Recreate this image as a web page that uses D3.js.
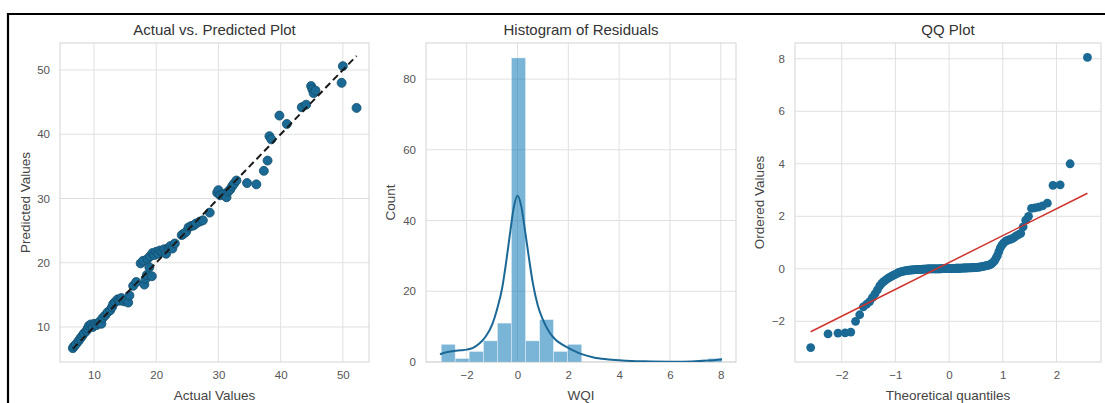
<!DOCTYPE html>
<html>
<head>
<meta charset="utf-8">
<script src="https://cdn.jsdelivr.net/npm/d3@7"></script>
<style>
  html, body { margin: 0; padding: 0; background: #fff; }
  svg { display: block; font-family: "Liberation Sans", Arial, sans-serif; }
</style>
</head>
<body>
<svg id="chart" width="1105" height="403"></svg>
<script>
// ---------------- DATA ----------------
// Panel 1: Actual vs. Predicted
const actualValues = [6.6,6.8,7.1,7.5,7.8,8.1,8.4,8.8,9.0,9.2,9.5,9.8,10.1,10.4,10.7,11.0,11.2,11.4,11.8,12.2,12.6,12.9,13.1,13.4,13.8,14.1,14.4,14.8,15.2,15.5,15.7,16.3,16.8,17.5,17.9,18.1,18.3,18.5,18.6,18.9,19.0,19.3,19.4,19.7,20.0,20.3,20.6,21.0,21.3,21.6,22.0,22.3,22.6,23.0,24.1,24.4,24.8,25.2,25.6,26.0,26.4,27.0,27.5,28.6,29.8,30.0,30.3,30.8,31.3,31.6,31.9,32.2,32.5,32.9,34.6,36.1,37.3,37.9,38.2,38.5,39.8,41.0,43.4,44.1,44.9,45.1,45.3,45.6,50.0,49.8,52.2];
const predictedValues = [6.7,7.0,7.3,7.8,8.2,8.6,9.0,9.4,9.8,10.2,10.4,10.0,10.5,10.3,10.6,10.9,10.5,11.4,11.8,12.3,12.6,13.1,13.6,13.9,14.3,14.1,14.5,14.0,14.2,13.8,14.9,16.4,17.0,19.9,20.3,16.6,17.5,18.1,20.6,19.3,21.0,17.9,21.5,21.2,21.7,21.4,21.9,21.7,22.1,21.4,22.3,22.6,22.2,23.0,24.3,24.5,24.8,25.5,25.7,25.8,26.1,26.4,26.6,27.8,30.9,31.3,30.5,30.7,30.2,31.1,31.4,31.9,32.3,32.8,32.4,32.2,34.3,35.9,39.7,39.2,42.9,41.6,44.2,44.6,47.5,47.0,46.4,46.8,50.6,48.0,44.1];
const identityLine = [6.6, 52.2];
const p1XTicks = [10,20,30,40,50];
const p1YTicks = [10,20,30,40,50];

// Panel 2: Histogram of residuals
const histEdges = [-3.0,-2.45,-1.9,-1.34,-0.79,-0.24,0.32,0.87,1.42,1.97,2.53,3.08,3.63,4.18,4.74,5.29,5.84,6.39,6.95,7.5,8.05];
const histCounts = [5,1,3,6,11,86,6,12,3,5,0,0,0,0,0,0,0,0,0,1];
const kdeX = [-3.05,-2.75,-2.5,-2.25,-2.0,-1.75,-1.5,-1.25,-1.0,-0.8,-0.6,-0.45,-0.3,-0.15,0,0.15,0.3,0.45,0.6,0.8,1.0,1.25,1.5,1.75,2.0,2.25,2.5,3.0,3.5,4.0,4.5,5.0,6.0,6.5,7.0,7.5,8.05];
const kdeY = [2.2,2.8,3.1,3.3,3.5,4.0,5.2,7.2,10.5,15,21,28,36,43.5,47,44,37,29.5,22.5,16,12,8.5,6.3,5.0,4.0,3.1,2.3,1.3,0.8,0.5,0.3,0.2,0.1,0.1,0.2,0.4,0.8];
const p2XTicks = [-2,0,2,4,6,8];
const p2YTicks = [0,20,40,60,80];

// Panel 3: QQ plot (ordered residuals)
const orderedValues = [
  -3.0,-2.48,-2.45,-2.44,-2.41,-2.0,-1.75,-1.45,-1.35,-1.25,
  -1.1,-0.95,-0.8,-0.65,-0.55,-0.48,-0.42,-0.37,-0.33,-0.29,
  -0.25,-0.22,-0.19,-0.16,-0.14,-0.12,-0.1,-0.09,-0.08,-0.07,
  -0.06,-0.05,-0.05,-0.045,-0.04,-0.04,-0.035,-0.03,-0.03,-0.025,
  -0.02,-0.02,-0.02,-0.015,-0.01,-0.01,-0.01,-0.005,-0.005,0.0,
  0,0,0,0,0,0,0,0,0,0,0,0.005,0.005,0.005,0.005,0.01,0.01,0.01,0.01,0.01,
  0.01,0.01,0.015,0.015,0.015,0.015,0.02,0.02,0.02,0.02,0.02,0.025,0.025,0.025,0.03,0.03,0.03,0.03,0.035,0.035,
  0.035,0.04,0.04,0.04,0.045,0.05,0.05,0.055,0.06,0.065,0.07,0.08,0.09,0.1,0.11,
  0.12,0.13,0.15,0.17,0.2,0.25,0.3,0.4,0.5,0.65,0.8,0.9,0.98,1.03,1.07,1.1,1.12,1.15,1.2,1.25,1.3,1.35,1.6,1.85,2.0,2.3,2.32,2.35,2.4,2.5,3.18,3.2,4.0,8.05
];
const qqFitSlope = 1.023;
const qqFitIntercept = 0.24;
const p3XTicks = [-2,-1,0,1,2];
const p3YTicks = [-2,0,2,4,6,8];

// ---------------- HELPERS ----------------
// inverse standard normal CDF (Acklam) for theoretical quantiles
function probit(p) {
  const a=[-3.969683028665376e+01,2.209460984245205e+02,-2.759285104469687e+02,1.383577518672690e+02,-3.066479806614716e+01,2.506628277459239e+00];
  const b=[-5.447609879822406e+01,1.615858368580409e+02,-1.556989798598866e+02,6.680131188771972e+01,-1.328068155288572e+01];
  const c=[-7.784894002430293e-03,-3.223964580411365e-01,-2.400758277161838e+00,-2.549671010366493e+00,4.374664141464968e+00,2.938163982698783e+00];
  const d=[7.784695709041462e-03,3.224671290700398e-01,2.445134137142996e+00,3.754408661907416e+00];
  const pl=0.02425, ph=1-pl;
  let q,r;
  if (p<pl){ q=Math.sqrt(-2*Math.log(p)); return (((((c[0]*q+c[1])*q+c[2])*q+c[3])*q+c[4])*q+c[5])/((((d[0]*q+d[1])*q+d[2])*q+d[3])*q+1); }
  if (p>ph){ q=Math.sqrt(-2*Math.log(1-p)); return -(((((c[0]*q+c[1])*q+c[2])*q+c[3])*q+c[4])*q+c[5])/((((d[0]*q+d[1])*q+d[2])*q+d[3])*q+1); }
  q=p-0.5; r=q*q;
  return (((((a[0]*r+a[1])*r+a[2])*r+a[3])*r+a[4])*r+a[5])*q/(((((b[0]*r+b[1])*r+b[2])*r+b[3])*r+b[4])*r+1);
}
// Filliben order statistic medians (as in scipy.stats.probplot)
function theoreticalQuantiles(n) {
  const out = [];
  const mn = Math.pow(0.5, 1/n);
  for (let i=1;i<=n;i++){
    let m;
    if (i===1) m = 1-mn; else if (i===n) m = mn; else m = (i-0.3175)/(n+0.365);
    out.push(probit(m));
  }
  return out;
}

// ---------------- LAYOUT ----------------
const svg = d3.select("#chart");
svg.append("rect").attr("width",1105).attr("height",403).attr("fill","#fff");

const plotTop = 43, plotBottom = 362;
const GRID = "#e0e0e0", FRAME = "#d4d4d4";
const TICKC = "#555", LABC = "#444", TITLEC = "#333";
const PT = "#1a6a95";

function panel(left, right, xDomain, yDomain, xTicks, yTicks, title, xLabel, yLabel, yLabelX, id) {
  const x = d3.scaleLinear().domain(xDomain).range([left, right]);
  const y = d3.scaleLinear().domain(yDomain).range([plotBottom, plotTop]);
  const g = svg.append("g");
  g.selectAll(".gx").data(xTicks).enter().append("line")
    .attr("x1", d=>x(d)).attr("x2", d=>x(d)).attr("y1", plotTop).attr("y2", plotBottom)
    .attr("stroke", GRID).attr("stroke-width", 1);
  g.selectAll(".gy").data(yTicks).enter().append("line")
    .attr("x1", left).attr("x2", right).attr("y1", d=>y(d)).attr("y2", d=>y(d))
    .attr("stroke", GRID).attr("stroke-width", 1);
  g.append("rect").attr("x", left).attr("y", plotTop).attr("width", right-left).attr("height", plotBottom-plotTop)
    .attr("fill","none").attr("stroke", FRAME).attr("stroke-width", 1);
  const ax = g.append("g").attr("transform", `translate(0,${plotBottom})`)
    .call(d3.axisBottom(x).tickValues(xTicks).tickSize(0).tickPadding(9).tickFormat(d3.format("d")));
  const ay = g.append("g").attr("transform", `translate(${left},0)`)
    .call(d3.axisLeft(y).tickValues(yTicks).tickSize(0).tickPadding(10).tickFormat(d3.format("d")));
  [ax, ay].forEach(a => {
    a.select(".domain").remove();
    a.selectAll("text").attr("fill", TICKC).attr("font-size", 11.5)
      .attr("font-family", '"Liberation Sans", Arial, sans-serif');
  });
  g.append("text").attr("x", (left+right)/2).attr("y", 35).attr("text-anchor","middle")
    .attr("font-size", 15).attr("fill", TITLEC).text(title);
  g.append("text").attr("x", (left+right)/2).attr("y", 400).attr("text-anchor","middle")
    .attr("font-size", 13.5).attr("fill", LABC).text(xLabel);
  g.append("text").attr("transform", `translate(${yLabelX},${(plotTop+plotBottom)/2}) rotate(-90)`)
    .attr("text-anchor","middle").attr("font-size", 13.5).attr("fill", LABC).text(yLabel);
  svg.append("clipPath").attr("id", id).append("rect")
    .attr("x", left).attr("y", plotTop).attr("width", right-left).attr("height", plotBottom-plotTop);
  const body = svg.append("g").attr("clip-path", `url(#${id})`);
  return {x, y, body};
}

// ---- Panel 1 ----
{
  const {x, y, body} = panel(60, 369, [4.54, 54.2], [4.55, 54.2], p1XTicks, p1YTicks,
    "Actual vs. Predicted Plot", "Actual Values", "Predicted Values", 30, "c1");
  const pts = actualValues.map((a,i)=>[a, predictedValues[i]]);
  body.selectAll("circle").data(pts).enter().append("circle")
    .attr("cx", d=>x(d[0])).attr("cy", d=>y(d[1])).attr("r", 4.5)
    .attr("fill", PT).attr("stroke", "#124c6b").attr("stroke-width", 0.8);
  body.append("line")
    .attr("x1", x(identityLine[0])).attr("y1", y(identityLine[0]))
    .attr("x2", x(identityLine[1])).attr("y2", y(identityLine[1]))
    .attr("stroke", "#1a1a1a").attr("stroke-width", 2).attr("stroke-dasharray", "7,4");
}

// ---- Panel 2 ----
{
  const {x, y, body} = panel(426, 736, [-3.6, 8.6], [0, 90.2], p2XTicks, p2YTicks,
    "Histogram of Residuals", "WQI", "Count", 395, "c2");
  const bins = histCounts.map((c,i)=>({x0: histEdges[i], x1: histEdges[i+1], c}));
  body.selectAll("rect.bar").data(bins.filter(b=>b.c>0)).enter().append("rect")
    .attr("x", d=>x(d.x0)).attr("width", d=>x(d.x1)-x(d.x0))
    .attr("y", d=>y(d.c)).attr("height", d=>y(0)-y(d.c))
    .attr("fill", "#0072B2").attr("fill-opacity", 0.52)
    .attr("stroke", "#ffffff").attr("stroke-opacity", 0.5).attr("stroke-width", 0.8);
  const kde = kdeX.map((v,i)=>[v, kdeY[i]]);
  body.append("path").datum(kde)
    .attr("d", d3.line().x(d=>x(d[0])).y(d=>y(d[1])).curve(d3.curveMonotoneX))
    .attr("fill","none").attr("stroke", "#1b6896").attr("stroke-width", 2);
}

// ---- Panel 3 ----
{
  const {x, y, body} = panel(795, 1101, [-2.87, 2.83], [-3.55, 8.6], p3XTicks, p3YTicks,
    "QQ Plot", "Theoretical quantiles", "Ordered Values", 764, "c3");
  const tq = theoreticalQuantiles(orderedValues.length);
  const pts = orderedValues.map((v,i)=>[tq[i], v]);
  body.selectAll("circle").data(pts).enter().append("circle")
    .attr("cx", d=>x(d[0])).attr("cy", d=>y(d[1])).attr("r", 4.4)
    .attr("fill", PT);
  const xe = d3.extent(tq);
  body.append("line")
    .attr("x1", x(xe[0])).attr("y1", y(qqFitIntercept + qqFitSlope*xe[0]))
    .attr("x2", x(xe[1])).attr("y2", y(qqFitIntercept + qqFitSlope*xe[1]))
    .attr("stroke", "#d0312d").attr("stroke-width", 1.5);
}

// outer black border (top and left visible)
svg.append("line").attr("x1", 7).attr("x2", 1105).attr("y1", 14).attr("y2", 14)
  .attr("stroke", "#000").attr("stroke-width", 2.2);
svg.append("line").attr("x1", 8).attr("x2", 8).attr("y1", 13).attr("y2", 403)
  .attr("stroke", "#000").attr("stroke-width", 2.2);
</script>
</body>
</html>
